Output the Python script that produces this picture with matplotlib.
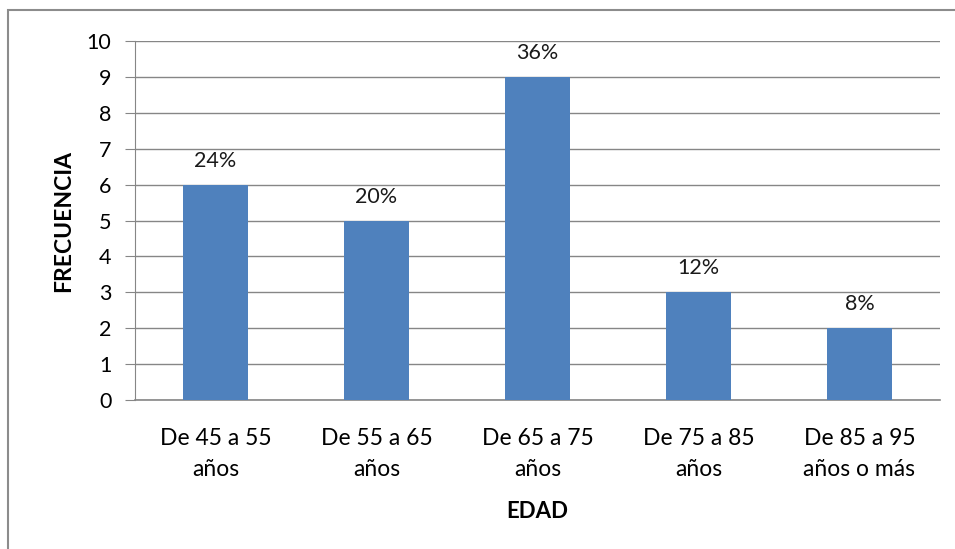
import matplotlib.pyplot as plt
from matplotlib.patches import Rectangle

# Datos
categorias = ["De 45 a 55\naños", "De 55 a 65\naños", "De 65 a 75\naños",
              "De 75 a 85\naños", "De 85 a 95\naños o más"]
frecuencia = [6, 5, 9, 3, 2]
porcentajes = ["24%", "20%", "36%", "12%", "8%"]

plt.rcParams['font.family'] = ['Lato', 'DejaVu Sans']

fig = plt.figure(figsize=(9.55, 5.49), dpi=100)
ax = fig.add_axes([0.1414, 0.2714, 0.8428, 0.6539])

x = range(len(categorias))
bars = ax.bar(x, frecuencia, width=0.4, color="#4F81BD", zorder=3)

for b, p in zip(bars, porcentajes):
    ax.annotate(p, (b.get_x() + b.get_width() / 2, b.get_height()),
                xytext=(0, 10), textcoords="offset points",
                ha="center", va="bottom", fontsize=15.5, color="#1a1a1a")

ax.set_xlim(-0.5, len(categorias) - 0.5)
ax.set_ylim(0, 10)
ax.set_yticks(range(0, 11))
ax.set_xticks(list(x))
ax.set_xticklabels(categorias, fontsize=16.5, linespacing=1.6)
ax.tick_params(axis="x", length=0, pad=20)
ax.tick_params(axis="y", length=7, color="#868686", labelsize=15.5, pad=10)

ax.grid(axis="y", color="#868686", linewidth=1, zorder=0)
for s in ["top", "right"]:
    ax.spines[s].set_visible(False)
ax.spines["left"].set_color("#868686")
ax.spines["bottom"].set_color("#868686")
ax.spines["bottom"].set_linewidth(1.2)

ax.set_xlabel("EDAD", fontsize=16, fontweight="bold", labelpad=15)
ax.set_ylabel("FRECUENCIA", fontsize=16.5, fontweight="bold", labelpad=9)

# Marco del gráfico
fig.add_artist(Rectangle((8 / 955, -0.1), 1.2, 1.1 - 10 / 549,
                         transform=fig.transFigure, fill=False,
                         edgecolor="#8c8c8c", linewidth=1.5))

fig.savefig("out.png", dpi=100)
